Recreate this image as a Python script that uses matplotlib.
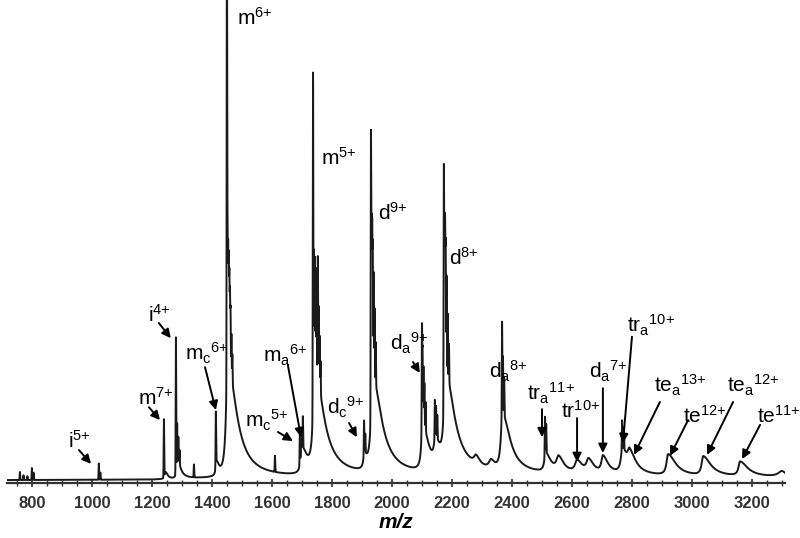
import numpy as np
import matplotlib.pyplot as plt

plt.rcParams["font.family"] = ["Liberation Sans", "DejaVu Sans"]
plt.rcParams["mathtext.default"] = "regular"

# resolved (sharp) peaks: m/z and relative intensity (%)
stick_mz = [760, 772, 785, 800, 806, 1023, 1028, 1240, 1280, 1284, 1288, 1292, 1340,
            1413, 1450, 1452, 1454, 1456, 1458, 1460, 1462, 1465, 1468, 1610,
            1693, 1697, 1703, 1737, 1740, 1743, 1746, 1749, 1753, 1756, 1759, 1762,
            1907, 1911, 1930, 1932, 1934, 1936, 1939, 1942, 1946,
            2100, 2102, 2105, 2108, 2112, 2143, 2147, 2151,
            2173, 2175, 2177, 2179, 2182, 2186, 2190,
            2367, 2370, 2374, 2510, 2514, 2767, 2773]
stick_int = [1.7, 1.0, 0.8, 2.5, 1.5, 3.4, 1.5, 12.2, 28.6, 8.0, 5.0, 3.0, 2.7,
             11.3, 100, 25, 24, 22, 19, 16, 13, 9, 6, 3.4,
             7.0, 5.5, 6.5, 70.4, 26.5, 23, 21, 19, 25.4, 16, 11, 7,
             7.0, 4.0, 58.0, 34, 31, 27, 22, 15, 9,
             21.6, 15, 12, 9, 6, 8.0, 6.5, 5,
             49.2, 33, 30, 26, 20, 13, 8,
             19.5, 12, 8, 8.0, 6.0, 5.9, 4.5]

# broad humps under the peaks: centre, height (%), left / right half widths
hump_mz = [1245, 1285, 1415, 1452, 1700, 1742, 1908, 1935, 2102, 2145, 2178,
           2280, 2330, 2368, 2512, 2555, 2617, 2655, 2703, 2768, 2792,
           2920, 3037, 3160, 3300]
hump_int = [1.5, 4.0, 3.0, 24, 5.5, 22, 3.0, 20, 10, 5.0, 20,
            1.8, 1.8, 12, 4.0, 3.0, 2.5, 2.7, 3.5, 5.0, 3.8,
            4.4, 4.0, 3.0, 1.2]
hump_wl = [3, 3, 3, 6, 5, 6, 4, 6, 5, 6, 6,
           8, 8, 6, 5, 8, 8, 8, 6, 6, 8,
           6, 6, 6, 15]
hump_wr = [8, 12, 10, 35, 20, 35, 12, 35, 22, 20, 35,
           15, 15, 30, 20, 20, 20, 20, 20, 18, 25,
           30, 30, 30, 15]
baseline_mz = [717, 1200, 1400, 2000, 2600, 3310]
baseline_int = [0.2, 0.3, 0.6, 0.9, 1.0, 0.6]

labels = [r"i$^{5{+}}$", r"m$^{7{+}}$", r"i$^{4{+}}$", r"m$_c$$^{6{+}}$", r"m$^{6{+}}$",
          r"m$_c$$^{5{+}}$", r"m$_a$$^{6{+}}$", r"m$^{5{+}}$", r"d$_c$$^{9{+}}$", r"d$^{9{+}}$",
          r"d$_a$$^{9{+}}$", r"d$^{8{+}}$", r"d$_a$$^{8{+}}$", r"tr$_a$$^{11{+}}$", r"tr$^{10{+}}$",
          r"d$_a$$^{7{+}}$", r"tr$_a$$^{10{+}}$", r"te$_a$$^{13{+}}$", r"te$^{12{+}}$",
          r"te$_a$$^{12{+}}$", r"te$^{11{+}}$"]
label_pos = [(920, 6.9), (1153, 16.0), (1187, 33.4), (1310, 25.4), (1483, 95.8),
             (1510, 11.3), (1570, 24.8), (1763, 66.4), (1783, 13.9), (1953, 54.8),
             (1993, 27.5), (2190, 45.4), (2323, 21.6), (2450, 17.0), (2563, 13.2),
             (2657, 21.6), (2783, 31.3), (2873, 18.7), (2970, 12.2),
             (3117, 18.5), (3217, 12.2)]
arrows = [((957, 6.5), (997, 3.6)), ((1223, 33.2), (1263, 30.0)),
          ((1190, 15.5), (1227, 12.8)), ((1377, 23.9), (1413, 14.9)),
          ((1653, 24.4), (1697, 9.2)), ((1620, 10.3), (1670, 8.4)),
          ((1857, 12.2), (1883, 9.2)), ((2070, 25.0), (2093, 22.7)),
          ((2500, 15.1), (2500, 9.2)), ((2617, 13.2), (2617, 4.0)),
          ((2703, 19.5), (2703, 5.9)), ((2800, 30.3), (2770, 8.0)),
          ((2893, 16.6), (2807, 5.5)), ((2987, 12.8), (2927, 5.3)),
          ((3137, 16.6), (3050, 5.5)), ((3227, 11.8), (3167, 4.6))]

# build the spectrum trace from the peak table
mz = np.arange(717, 3310, 0.25)
y = np.interp(mz, baseline_mz, baseline_int)
for c, h in zip(stick_mz, stick_int):
    y += h * np.exp(-0.5 * ((mz - c) / 0.8) ** 2)
for c, h, wl, wr in zip(hump_mz, hump_int, hump_wl, hump_wr):
    w = np.where(mz < c, wl, wr)
    y += h / (1 + ((mz - c) / w) ** 2)

fig = plt.figure(figsize=(8, 5.38), dpi=100)
ax = fig.add_axes([0.00875, 0.1022, 0.9725, 0.8978])
ax.plot(mz, y, color="#1a1a1a", lw=1.4)

for txt, (x0, y0) in zip(labels, label_pos):
    ax.text(x0, y0, txt, fontsize=15, ha="left", va="baseline", color="black")
for tail, head in arrows:
    ax.annotate("", xy=head, xytext=tail,
                arrowprops=dict(arrowstyle="-|>", color="black", lw=1.4, mutation_scale=13,
                                shrinkA=0, shrinkB=0))

ax.set_xlim(717, 3310)
ax.set_ylim(-0.42, 101.05)
for s in ["left", "right", "top"]:
    ax.spines[s].set_visible(False)
ax.spines["bottom"].set_linewidth(1.6)
ax.spines["bottom"].set_color("#333333")
ax.set_yticks([])
ax.set_xticks(np.arange(800, 3300, 200))
ax.set_xticks(np.arange(750, 3310, 50), minor=True)
ax.tick_params(axis="x", which="major", direction="inout", length=6, width=1.2,
               color="#333333", labelsize=12, labelcolor="#333333", pad=6)
ax.tick_params(axis="x", which="minor", direction="inout", length=4, width=1, color="#333333")
for t in ax.get_xticklabels():
    t.set_fontweight("bold")
ax.set_xlabel("m/z", fontsize=15, fontweight="bold", fontstyle="italic", color="black", labelpad=2)

fig.savefig("out.png", dpi=100)
